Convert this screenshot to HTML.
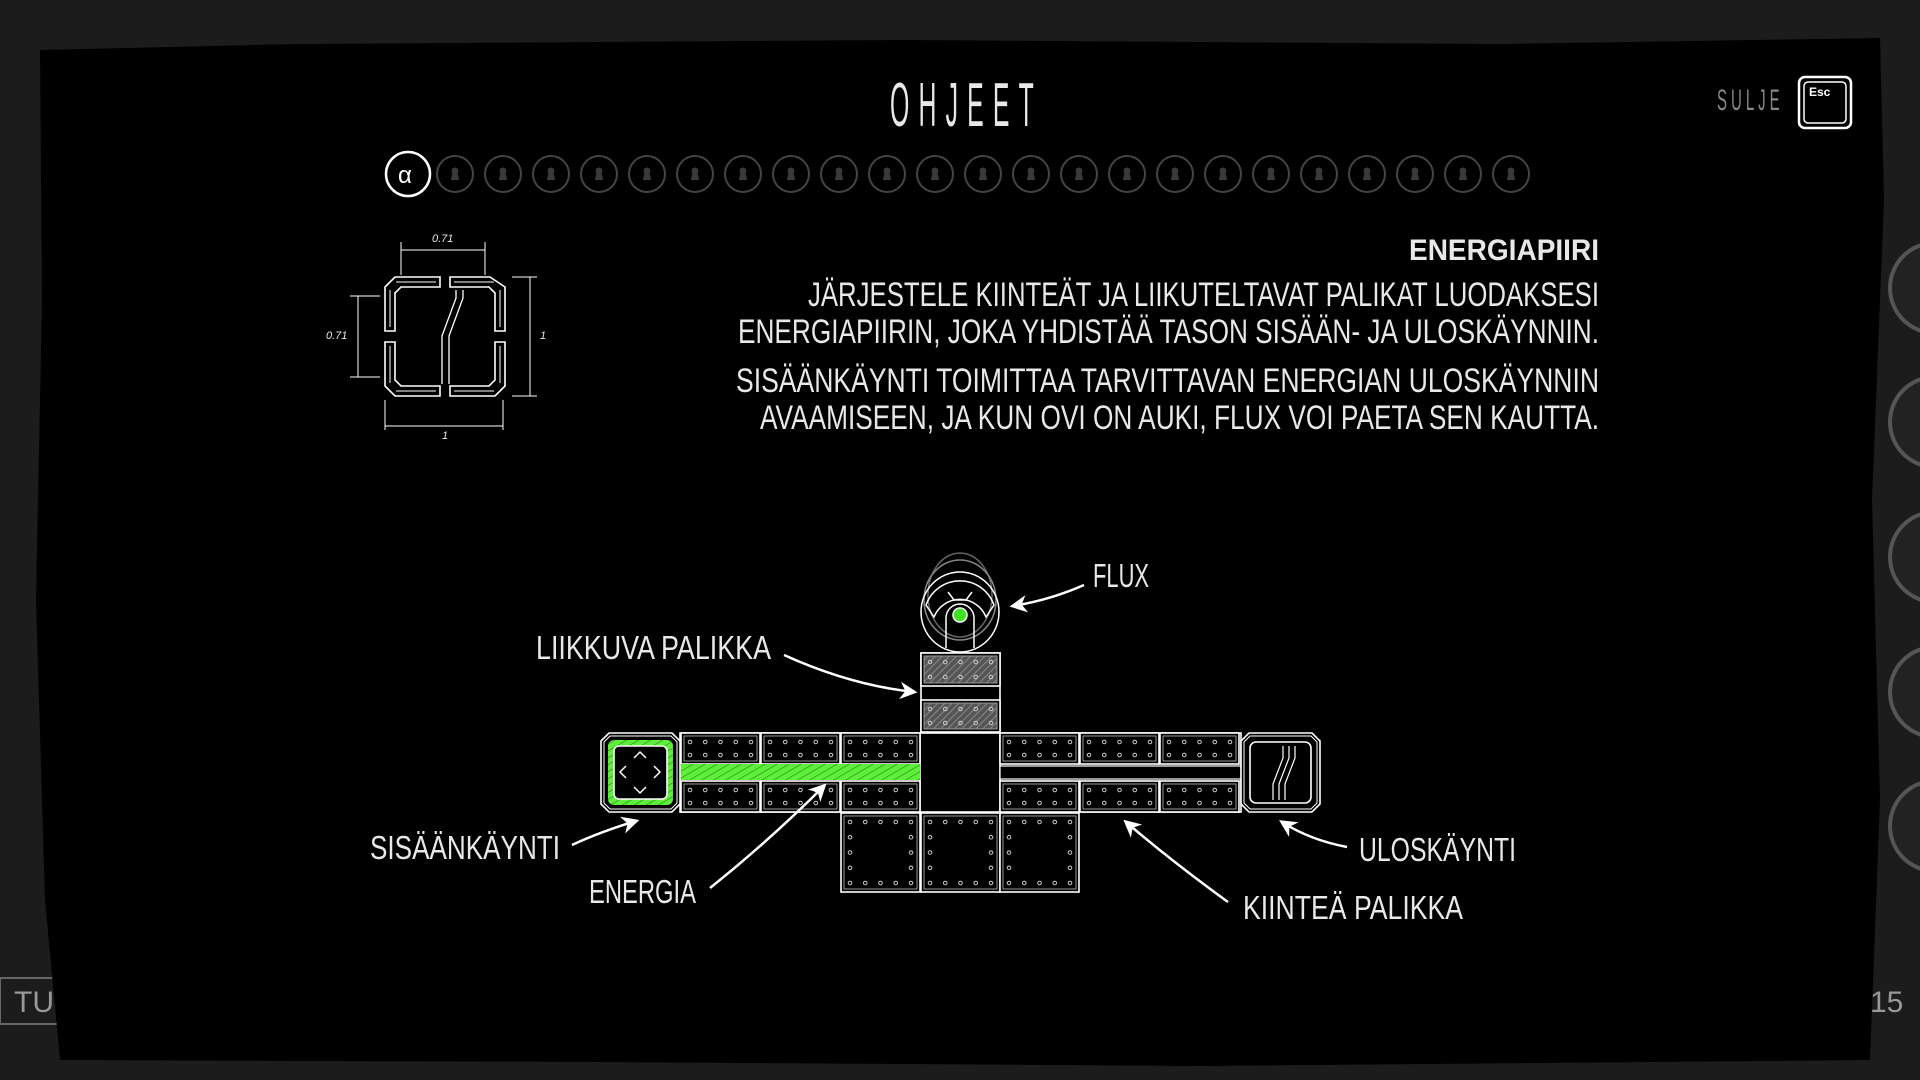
<!DOCTYPE html>
<html><head><meta charset="utf-8"><style>
html,body{margin:0;padding:0;background:#1b1b1b;width:1920px;height:1080px;overflow:hidden}
svg{display:block}
text{font-family:"Liberation Sans",sans-serif;fill:#e8e8e8}
</style></head><body>
<svg id="s" width="1920" height="1080" viewBox="0 0 1920 1080" xmlns="http://www.w3.org/2000/svg">
<defs>
<pattern id="hatch" width="5" height="5" patternUnits="userSpaceOnUse" patternTransform="rotate(45)"><rect width="5" height="5" fill="#555"/><line x1="0" y1="0" x2="0" y2="5" stroke="#999" stroke-width="1.5"/></pattern>
<pattern id="ghatch" width="6" height="6" patternUnits="userSpaceOnUse" patternTransform="rotate(60)"><rect width="6" height="6" fill="#5cf03a"/><line x1="0" y1="0" x2="0" y2="6" stroke="#2f7a1c" stroke-width="1.2"/></pattern>
<marker id="ah" viewBox="0 0 10 10" refX="8" refY="5" markerWidth="7" markerHeight="7" orient="auto"><path d="M0,0 L10,5 L0,10 L3,5 z" fill="#fff"/></marker>
</defs>
<rect width="1920" height="1080" fill="#1c1c1c"/>
<g fill="#222" stroke="#555" stroke-width="4">
<circle cx="1935" cy="288" r="45"/><circle cx="1935" cy="422" r="45"/><circle cx="1935" cy="557" r="45"/><circle cx="1935" cy="692" r="45"/><circle cx="1935" cy="826" r="45"/>
</g>
<rect x="0" y="978" width="100" height="46" fill="#1c1c1c" stroke="#666" stroke-width="2"/>
<text x="14" y="1012" font-size="30" style="fill:#999">TU</text>
<text x="1870" y="1012" font-size="30" style="fill:#999">15</text>
<path d="M40,50 L300,44 L900,40 L1500,44 L1880,38 L1884,200 L1872,500 L1880,800 L1870,1060 L1200,1066 L600,1062 L60,1060 L45,900 L36,600 L42,300 Z" fill="#000"/>
<text transform="translate(890,126) scale(0.4,1)" font-size="62" letter-spacing="23">OHJEET</text>
<text transform="translate(1717,110) scale(0.5,1)" font-size="30" letter-spacing="8" style="fill:#888">SULJE</text>
<rect x="1799" y="77" width="52" height="51" rx="6" fill="none" stroke="#fff" stroke-width="2.5"/>
<rect x="1804" y="82" width="42" height="41" rx="4" fill="none" stroke="#fff" stroke-width="1.5"/>
<text x="1809" y="96" font-size="12" font-weight="bold" style="fill:#fff">Esc</text>
<circle cx="408" cy="174" r="22" fill="none" stroke="#fff" stroke-width="2.5"/>
<text x="398" y="183" font-size="24" style="fill:#fff">α</text>
<g id="circ"></g>
<g fill="none" stroke="#fff" stroke-width="1.6">
<path d="M395,277 H440 V287 H401 L395,293 V331 H385 V287 Z"/>
<path d="M490,277 H450 V287 H489 L495,293 V331 H505 V287 Z"/>
<path d="M395,396 H440 V386 H401 L395,380 V342 H385 V386 Z"/>
<path d="M495,396 H450 V386 H489 L495,380 V342 H505 V386 Z"/>
<path d="M396,282 H436 M390,290 V327 M494,282 H454 M500,290 V327 M396,391 H436 M390,383 V346 M494,391 H454 M500,383 V346" stroke-width="1"/>
<path d="M456,290 V298 L442,336 V384 M463,290 V298 L449,336 V384" stroke-width="1.3"/>
<g stroke-width="1">
<line x1="401" y1="250" x2="485" y2="250"/><line x1="401" y1="242" x2="401" y2="275"/><line x1="485" y1="242" x2="485" y2="275"/>
<line x1="358" y1="296" x2="358" y2="377"/><line x1="350" y1="296" x2="380" y2="296"/><line x1="350" y1="377" x2="380" y2="377"/>
<line x1="530" y1="277" x2="530" y2="396"/><line x1="512" y1="277" x2="537" y2="277"/><line x1="512" y1="396" x2="537" y2="396"/>
<line x1="385" y1="426" x2="503" y2="426"/><line x1="385" y1="400" x2="385" y2="430"/><line x1="503" y1="400" x2="503" y2="430"/>
</g></g>
<g style="font-style:italic"><text x="432" y="242" font-size="11">0.71</text><text x="326" y="339" font-size="11">0.71</text><text x="540" y="339" font-size="11">1</text><text x="442" y="439" font-size="11">1</text></g>
<text x="1409" y="260" font-size="30" font-weight="bold" textLength="190" lengthAdjust="spacingAndGlyphs">ENERGIAPIIRI</text>
<g font-size="34">
<text x="808" y="306" textLength="791" lengthAdjust="spacingAndGlyphs">JÄRJESTELE KIINTEÄT JA LIIKUTELTAVAT PALIKAT LUODAKSESI</text>
<text x="738" y="343" textLength="861" lengthAdjust="spacingAndGlyphs">ENERGIAPIIRIN, JOKA YHDISTÄÄ TASON SISÄÄN- JA ULOSKÄYNNIN.</text>
<text x="736" y="392" textLength="863" lengthAdjust="spacingAndGlyphs">SISÄÄNKÄYNTI TOIMITTAA TARVITTAVAN ENERGIAN ULOSKÄYNNIN</text>
<text x="760" y="429" textLength="839" lengthAdjust="spacingAndGlyphs">AVAAMISEEN, JA KUN OVI ON AUKI, FLUX VOI PAETA SEN KAUTTA.</text>
</g>
<g id="blocks"></g>
<g fill="none" stroke="#fff" stroke-width="1.5">
<ellipse cx="960" cy="595" rx="32" ry="42" stroke="#666"/>
<ellipse cx="960" cy="600" rx="36" ry="40" stroke="#888"/>
<ellipse cx="960" cy="612" rx="39" ry="40"/>
<path d="M926,605 a36,36 0 0 1 68,0 l-8,12 a28,28 0 0 0 -52,0 z"/>
<path d="M948,592 l6,8 h12 l6,-8" />
<path d="M946,648 v-30 a14,14 0 0 1 28,0 v30"/>
</g>
<circle cx="960" cy="615" r="7" fill="#3ce31e" stroke="#fff" stroke-width="1.5"/>
<g fill="none" stroke="#fff" stroke-width="2.5" marker-end="url(#ah)">
<path d="M1084,585 Q1050,600 1013,606"/>
<path d="M784,655 Q850,685 914,692"/>
<path d="M572,845 Q600,832 636,821"/>
<path d="M710,888 Q770,840 824,786"/>
<path d="M1228,902 Q1170,860 1126,822"/>
<path d="M1347,847 Q1310,840 1282,822"/>
</g>
<g font-size="33">
<text x="1093" y="587" textLength="56" lengthAdjust="spacingAndGlyphs">FLUX</text>
<text x="536" y="659" textLength="235" lengthAdjust="spacingAndGlyphs">LIIKKUVA PALIKKA</text>
<text x="370" y="859" textLength="190" lengthAdjust="spacingAndGlyphs">SISÄÄNKÄYNTI</text>
<text x="589" y="903" textLength="107" lengthAdjust="spacingAndGlyphs">ENERGIA</text>
<text x="1243" y="919" textLength="220" lengthAdjust="spacingAndGlyphs">KIINTEÄ PALIKKA</text>
<text x="1359" y="861" textLength="157" lengthAdjust="spacingAndGlyphs">ULOSKÄYNTI</text>
</g>
</svg>
<script>
var NS="http://www.w3.org/2000/svg";
function el(p,t,a){var e=document.createElementNS(NS,t);for(var k in a)e.setAttribute(k,a[k]);p.appendChild(e);return e;}
var c=document.getElementById("circ");
for(var i=0;i<23;i++){var x=455+i*48;
el(c,"circle",{cx:x,cy:174,r:18,fill:"none",stroke:"#444","stroke-width":2});
el(c,"circle",{cx:x,cy:171,r:3.5,fill:"#3a3a3a"});
el(c,"path",{d:"M"+(x-2.5)+",172 l-1.5,8 h8 l-1.5,-8 z",fill:"#3a3a3a"});}
var b=document.getElementById("blocks");
function dots(x,y,w,h,nx,ny,frame){
 for(var i=0;i<nx;i++)for(var j=0;j<ny;j++){
  if(frame&&i>0&&i<nx-1&&j>0&&j<ny-1)continue;
  el(b,"circle",{cx:x+6+i*(w-12)/(nx-1),cy:y+6+j*(h-12)/(ny-1),r:1.8,fill:"none",stroke:"#ccc","stroke-width":1});}}
function blk(x,y,w,h,hatch,big){
 el(b,"rect",{x:x,y:y,width:w,height:h,fill:"#000",stroke:"#fff","stroke-width":1.6});
 el(b,"rect",{x:x+3,y:y+3,width:w-6,height:h-6,fill:hatch?"url(#hatch)":"none",stroke:"#999","stroke-width":1});
 if(big)dots(x+3,y+3,w-6,h-6,5,5,true);else dots(x+3,y+3,w-6,h-6,5,2,false);}
el(b,"rect",{x:680,y:733,width:561,height:79,fill:"#000",stroke:"#fff","stroke-width":1.6});
el(b,"rect",{x:920,y:733,width:80,height:79,fill:"#000",stroke:"#fff","stroke-width":1.6});
var xs=[681,761,841,1000,1080,1160];
xs.forEach(function(x){blk(x,733,79,31,false,false);blk(x,781,79,31,false,false);});
[841,921,1000].forEach(function(x){blk(x,813,79,79,false,true);});
el(b,"rect",{x:921,y:653,width:79,height:79,fill:"#000",stroke:"#fff","stroke-width":1.6});
blk(921,653,79,33,true,false);blk(921,700,79,32,true,false);
el(b,"rect",{x:673,y:764,width:247,height:16,fill:"url(#ghatch)"});
el(b,"rect",{x:1000,y:766,width:241,height:13,fill:"#000",stroke:"#fff","stroke-width":1.2});
function oct(x,y,w,h,c){return "M"+(x+c)+","+y+" h"+(w-2*c)+" l"+c+","+c+" v"+(h-2*c)+" l-"+c+","+c+" h-"+(w-2*c)+" l-"+c+",-"+c+" v-"+(h-2*c)+" z";}
el(b,"path",{d:oct(601,733,79,79,8),fill:"#000",stroke:"#fff","stroke-width":1.6});
el(b,"path",{d:oct(604,736,73,73,6),fill:"none",stroke:"#fff","stroke-width":1});
el(b,"rect",{x:608,y:740,width:65,height:65,rx:6,fill:"url(#ghatch)"});
el(b,"rect",{x:614,y:746,width:53,height:53,rx:5,fill:"#000",stroke:"#fff","stroke-width":1.6});
el(b,"path",{d:"M634,758 l6,-6 l6,6 M634,787 l6,6 l6,-6 M626,766 l-6,6 l6,6 M654,766 l6,6 l-6,6",fill:"none",stroke:"#fff","stroke-width":1.5});
el(b,"path",{d:oct(1241,733,79,79,8),fill:"#000",stroke:"#fff","stroke-width":1.6});
el(b,"path",{d:oct(1244,736,73,73,6),fill:"none",stroke:"#fff","stroke-width":1});
el(b,"rect",{x:1250,y:742,width:61,height:61,rx:6,fill:"none",stroke:"#fff","stroke-width":1.6});
el(b,"path",{d:"M1289,746 v12 l-10,26 v16 M1295,746 v12 l-10,26 v16 M1283,746 v12 l-10,26 v16",fill:"none",stroke:"#fff","stroke-width":1.2});
</script>
</body></html>
